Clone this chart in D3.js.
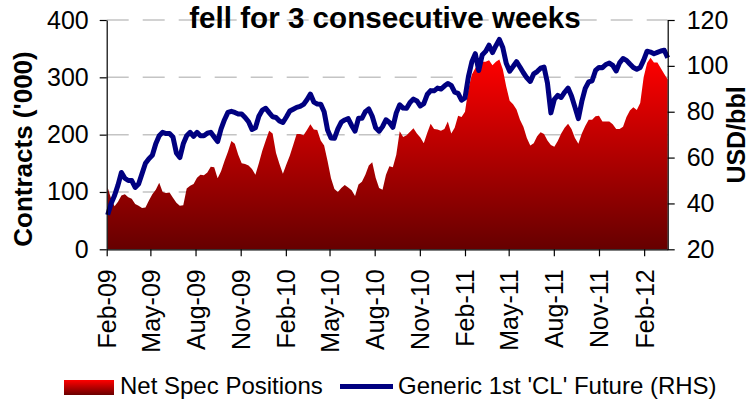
<!DOCTYPE html>
<html>
<head>
<meta charset="utf-8">
<script src="https://cdn.jsdelivr.net/npm/d3@7"></script>
<style>
  html, body { margin: 0; padding: 0; background: #fff; }
  svg { display: block; font-family: "Liberation Sans", Arial, sans-serif; }
</style>
</head>
<body>
<div id="chart"></div>
<script>
// weekly data, first observation
const firstWeek = '2009-02-03';

// Net speculative positions, contracts ('000), weekly
const netSpec = [
  108, 88, 75, 83, 94, 96, 91, 88, 79, 76,
  72, 73, 85, 96, 104, 116, 100, 98, 99, 90,
  81, 76, 77, 106, 111, 114, 125, 130, 129, 134,
  144, 143, 124, 136, 154, 170, 189, 184, 165, 150,
  149, 146, 140, 130, 150, 172, 190, 207, 202, 168,
  149, 132, 148, 163, 182, 201, 201, 199, 208, 218,
  209, 208, 190, 181, 154, 124, 105, 100, 107, 112,
  108, 103, 93, 113, 118, 130, 146, 152, 125, 107,
  104, 130, 145, 143, 165, 206, 196, 199, 205, 211,
  202, 195, 185, 203, 219, 210, 209, 207, 210, 223,
  202, 212, 233, 231, 240, 280, 305, 316, 325, 327,
  327, 330, 321, 327, 331, 314, 284, 259, 253, 244,
  226, 214, 194, 181, 185, 197, 204, 201, 190, 182,
  179, 189, 202, 212, 219, 210, 194, 184, 202, 215,
  226, 226, 232, 233, 223, 223, 223, 218, 210, 210,
  214, 231, 242, 248, 243, 255, 300, 325, 334, 326,
  326, 316, 306, 296
];

// Generic 1st 'CL' future, USD/bbl, weekly
const clFuture = [
  35, 40, 43.5, 48, 53.5, 51, 50, 50, 47, 48.5,
  53, 57.5, 59.5, 61, 66, 69.5, 71, 70.5, 70.5, 69,
  62, 60, 66, 69.5, 71, 69.3, 71, 69.5, 69.5, 70.6,
  71, 69, 67, 72.5, 76.5, 79.7, 80.2, 79.7, 79, 79,
  77.5, 75.6, 72.3, 73, 78, 80.7, 81.5, 79.6, 77.8, 77.5,
  76, 75.3, 77.7, 80.3, 81.1, 81.9, 82.3, 83.2, 85.2, 87.7,
  84.2, 83.4, 83.3, 80, 72, 68.5, 68.4, 72.5, 75.5, 76.4,
  77, 74, 71.5, 77.1, 77.1, 80, 81.2, 78, 73, 71.5,
  73.5, 76.5, 75.3, 73.2, 79.5, 83, 81.6, 81.5, 84, 85.5,
  84.7, 82.5, 83.5, 87.5, 89.2, 89.1, 90.3, 89.9, 91.2, 92.3,
  91.5, 88.5, 88, 85, 86, 95.3, 101.8, 105.3, 98, 104.7,
  106.3, 109, 105.8, 108.8, 111.5, 108, 101.1, 97.7, 99.7, 101.8,
  99.5, 97, 94.8, 93.2, 96.5, 97.5, 99, 99.5, 92.5, 79.5,
  85.4, 87.1, 86.2, 88.5, 90.3, 86.9, 82, 77, 84.5, 90.2,
  93, 93.5, 98, 99.3, 99.2, 100.6, 101.2, 100.2, 97.8, 101.3,
  103.2, 102.4, 100.8, 99.3, 98.5, 99.3, 102.5, 106.4, 106, 105.3,
  105.9, 106.5, 106.8, 103.5
];

const xTickLabels = ['Feb-09', 'May-09', 'Aug-09', 'Nov-09', 'Feb-10', 'May-10', 'Aug-10',
  'Nov-10', 'Feb-11', 'May-11', 'Aug-11', 'Nov-11', 'Feb-12'];
const leftTicks = [0, 100, 200, 300, 400];
const rightTicks = [20, 40, 60, 80, 100, 120];

const titleText = 'fell for 3 consecutive weeks';
const legendLabels = ['Net Spec Positions', "Generic 1st 'CL' Future (RHS)"];

const width = 751, height = 402;
const plot = { left: 106.7, right: 667.7, top: 20, bottom: 249.3 };

const start = d3.timeParse('%Y-%m-%d')(firstWeek);
const dates = netSpec.map((_, i) => d3.timeDay.offset(start, 7 * i));
const data = dates.map((d, i) => ({ date: d, spec: netSpec[i], cl: clFuture[i] }));
const parseTick = d3.timeParse('%b-%y');
const tickDates = xTickLabels.map(parseTick);

const svg = d3.select('#chart').append('svg')
  .attr('width', width)
  .attr('height', height);

svg.append('rect').attr('width', width).attr('height', height).attr('fill', '#fff');

const x = d3.scaleTime()
  .domain([new Date(2009, 1, 1), dates[dates.length - 1]])
  .range([plot.left, plot.right]);
const yL = d3.scaleLinear().domain([0, 400]).range([plot.bottom, plot.top]);
const yR = d3.scaleLinear().domain([20, 120]).range([plot.bottom, plot.top]);

// gradient for the area
const defs = svg.append('defs');
const grad = defs.append('linearGradient')
  .attr('id', 'specGrad')
  .attr('gradientUnits', 'userSpaceOnUse')
  .attr('x1', 0).attr('x2', 0)
  .attr('y1', yL(d3.max(netSpec))).attr('y2', yL(0));
grad.append('stop').attr('offset', '0%').attr('stop-color', '#ff0000');
grad.append('stop').attr('offset', '100%').attr('stop-color', '#660000');

const legGrad = defs.append('linearGradient')
  .attr('id', 'legGrad')
  .attr('x1', 0).attr('x2', 0).attr('y1', 0).attr('y2', 1);
legGrad.append('stop').attr('offset', '0%').attr('stop-color', '#ff0000');
legGrad.append('stop').attr('offset', '100%').attr('stop-color', '#6a0000');

// gridlines (behind everything)
svg.append('g')
  .selectAll('line')
  .data(leftTicks.filter(d => d > 0))
  .join('line')
  .attr('x1', plot.left).attr('x2', plot.right)
  .attr('y1', d => yL(d)).attr('y2', d => yL(d))
  .attr('stroke', '#c4c4c4')
  .attr('stroke-width', 1.5)
  .attr('stroke-dasharray', '22,14');

// area
svg.append('path')
  .datum(data)
  .attr('fill', 'url(#specGrad)')
  .attr('d', d3.area()
    .x(d => x(d.date))
    .y0(yL(0))
    .y1(d => yL(d.spec)));

// line
svg.append('path')
  .datum(data)
  .attr('fill', 'none')
  .attr('stroke', '#000080')
  .attr('stroke-width', 5)
  .attr('stroke-linejoin', 'round')
  .attr('d', d3.line()
    .x(d => x(d.date))
    .y(d => yR(d.cl)));

// axes
const styleAxis = g => {
  g.selectAll('path.domain').attr('stroke', '#000').attr('stroke-width', 1.2);
  g.selectAll('.tick line').attr('stroke', '#000').attr('stroke-width', 1.2);
  g.selectAll('text')
    .attr('font-size', 25)
    .attr('fill', '#000')
    .attr('font-family', '"Liberation Sans", Arial, sans-serif');
};

svg.append('g')
  .attr('transform', `translate(${plot.left},0)`)
  .call(d3.axisLeft(yL).tickValues(leftTicks).tickSize(7).tickSizeOuter(0).tickPadding(11))
  .call(styleAxis);

svg.append('g')
  .attr('transform', `translate(${plot.right},0)`)
  .call(d3.axisRight(yR).tickValues(rightTicks).tickSize(7).tickSizeOuter(0).tickPadding(12))
  .call(styleAxis);

svg.append('g')
  .attr('transform', `translate(0,${plot.bottom})`)
  .call(d3.axisBottom(x).tickValues(tickDates).tickSize(7).tickSizeOuter(0)
    .tickFormat((d, i) => xTickLabels[i]))
  .call(styleAxis)
  .call(g => g.selectAll('text')
    .attr('transform', 'rotate(-90)')
    .attr('text-anchor', 'end')
    .attr('x', -20)
    .attr('y', 0)
    .attr('dy', '0.36em'));

// title
svg.append('text')
  .attr('x', 385)
  .attr('y', 28)
  .attr('text-anchor', 'middle')
  .attr('font-size', 29.6)
  .attr('font-weight', 'bold')
  .text(titleText);

// axis titles
svg.append('text')
  .attr('transform', 'translate(32,149) rotate(-90)')
  .attr('text-anchor', 'middle')
  .attr('font-size', 26)
  .attr('font-weight', 'bold')
  .text("Contracts ('000)");

svg.append('text')
  .attr('transform', 'translate(745,135) rotate(-90)')
  .attr('text-anchor', 'middle')
  .attr('font-size', 25)
  .attr('font-weight', 'bold')
  .text('USD/bbl');

// legend
const legend = svg.append('g').attr('font-size', 24);
legend.append('rect')
  .attr('x', 64).attr('y', 380).attr('width', 50).attr('height', 15)
  .attr('fill', 'url(#legGrad)');
legend.append('text').attr('x', 120).attr('y', 394).text(legendLabels[0]);
legend.append('line')
  .attr('x1', 340).attr('x2', 393).attr('y1', 386.5).attr('y2', 386.5)
  .attr('stroke', '#000080').attr('stroke-width', 5);
legend.append('text').attr('x', 398).attr('y', 394).text(legendLabels[1]);
</script>
</body>
</html>
